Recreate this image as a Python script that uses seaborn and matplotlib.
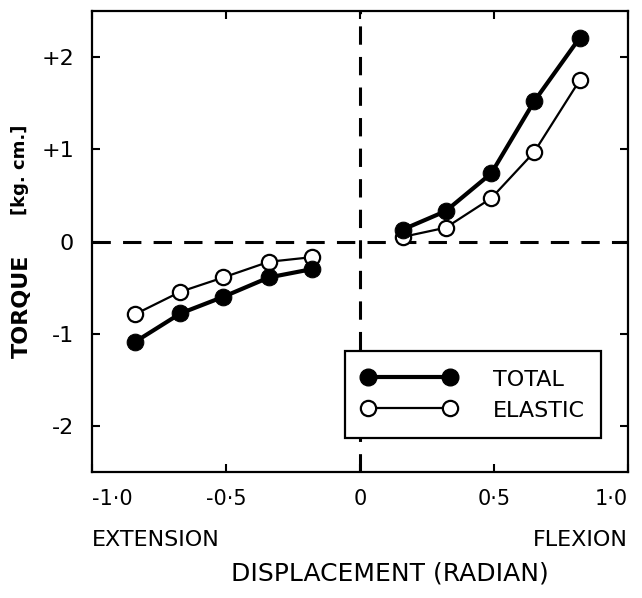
#!/usr/bin/env python3

import pandas as pd
import seaborn as sns
import matplotlib.pyplot as plt
from matplotlib.lines import Line2D

# displacement (radian) at which torque was measured
disp_ext = [-0.84, -0.67, -0.51, -0.34, -0.18]
disp_flex = [0.16, 0.32, 0.49, 0.65, 0.82]

# torque (kg. cm.)
total_ext = [-1.09, -0.78, -0.60, -0.39, -0.30]
total_flex = [0.13, 0.33, 0.74, 1.52, 2.21]
elastic_ext = [-0.79, -0.545, -0.39, -0.22, -0.17]
elastic_flex = [0.05, 0.15, 0.47, 0.97, 1.75]

xticks = [-1.0, -0.5, 0, 0.5, 1.0]
xticklabels = ["-1·0", "-0·5", "0", "0·5", "1·0"]
yticks = [2, 1, 0, -1, -2]
yticklabels = ["+2", "+1", "0", "-1", "-2"]

rows = []
for series, ext, flex in [("TOTAL", total_ext, total_flex), ("ELASTIC", elastic_ext, elastic_flex)]:
    for x, y in zip(disp_ext, ext):
        rows.append({"series": series, "side": "extension", "displacement": x, "torque": y})
    for x, y in zip(disp_flex, flex):
        rows.append({"series": series, "side": "flexion", "displacement": x, "torque": y})
df = pd.DataFrame(rows)

sns.set_style("ticks")
plt.rcParams["font.family"] = ["DejaVu Sans"]
plt.rcParams["text.color"] = "black"
plt.rcParams["axes.labelcolor"] = "black"
plt.rcParams["xtick.color"] = "black"
plt.rcParams["ytick.color"] = "black"

fig = plt.figure(figsize=(6.42, 5.98), dpi=100)
ax = fig.add_axes([92 / 642, 1 - 472 / 598, 536 / 642, 461 / 598])

# zero reference lines
ax.axhline(0, color="black", lw=2.2, ls=(0, (6, 4)), zorder=1)
ax.axvline(0, color="black", lw=2.2, ls=(0, (6, 4)), zorder=1)

sns.lineplot(data=df[df.series == "ELASTIC"], x="displacement", y="torque",
             units="side", estimator=None, ax=ax, color="black", lw=1.6,
             marker="o", markersize=11, markerfacecolor="white",
             markeredgecolor="black", markeredgewidth=1.6, zorder=3)
sns.lineplot(data=df[df.series == "TOTAL"], x="displacement", y="torque",
             units="side", estimator=None, ax=ax, color="black", lw=3.0,
             marker="o", markersize=12, markerfacecolor="black",
             markeredgecolor="black", zorder=4)

ax.set_xlim(-1.0, 1.0)
ax.set_ylim(-2.5, 2.5)
ax.set_xticks(xticks, xticklabels)
ax.set_yticks(yticks, yticklabels)
ax.get_xticklabels()[0].set_ha("left")
ax.get_xticklabels()[-1].set_ha("right")
ax.tick_params(axis="x", direction="in", length=6, width=1.5, labelsize=15, pad=12,
               top=True, bottom=True)
ax.tick_params(axis="y", direction="in", length=6, width=1.5, labelsize=16, pad=13,
               left=True, right=True)
for s in ax.spines.values():
    s.set_linewidth(1.6)
    s.set_color("black")

ax.set_xlabel("DISPLACEMENT (RADIAN)", fontsize=18)
ax.xaxis.set_label_coords(0.556, -0.195)
ax.set_ylabel("TORQUE", fontsize=16, fontweight="bold")
ax.yaxis.set_label_coords(-0.112, 0.36)
ax.text(-0.134, 0.655, "[kg. cm.]", transform=ax.transAxes, rotation=90,
        ha="center", va="center", fontsize=13, fontweight="bold")

ax.text(0.0, -0.148, "EXTENSION", transform=ax.transAxes, ha="left", va="center", fontsize=16)
ax.text(1.0, -0.148, "FLEXION", transform=ax.transAxes, ha="right", va="center", fontsize=16)

handles = [
    Line2D([], [], color="black", lw=3.0, marker="o", markersize=12, markerfacecolor="black"),
    Line2D([], [], color="black", lw=1.6, marker="o", markersize=11, markerfacecolor="white",
           markeredgewidth=1.6),
]
leg = ax.legend(handles, ["TOTAL", "ELASTIC"], loc="lower right", bbox_to_anchor=(0.95, 0.074),
                numpoints=2, handlelength=4.3, handletextpad=1.6, fontsize=16,
                fancybox=False, framealpha=1, edgecolor="black", borderpad=0.75,
                labelspacing=0.45, borderaxespad=0, handleheight=1.0)
leg.get_frame().set_linewidth(1.6)

plt.savefig("out.png", dpi=100)
